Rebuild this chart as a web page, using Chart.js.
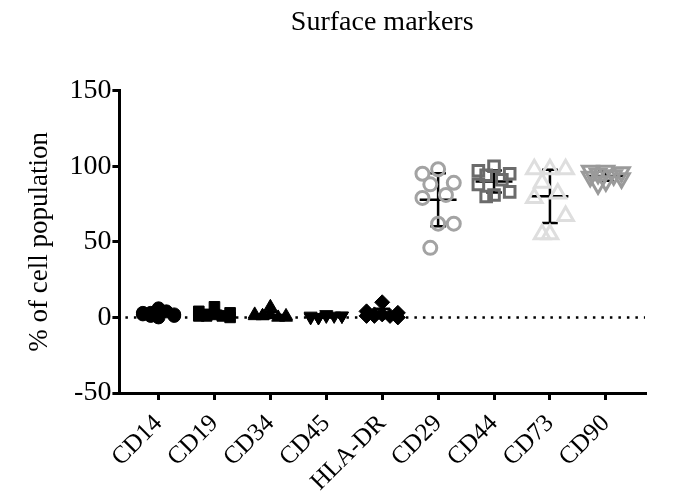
<!DOCTYPE html>
<html>
<head>
<meta charset="utf-8">
<script src="https://cdn.jsdelivr.net/npm/chart.js@4.4.0/dist/chart.umd.min.js"></script>
<style>
  body { margin: 0; background: #fff; }
  #wrap { width: 676px; height: 497px; }
</style>
</head>
<body>
<div id="wrap"><canvas id="myChart"></canvas></div>
<script>
let categories = ['CD14', 'CD19', 'CD34', 'CD45', 'HLA-DR', 'CD29', 'CD44', 'CD73', 'CD90']

// % of cell population, one array per marker
let cd14 = [6, 3, 2, 1, 4, 2, 1, 0, 3]
let cd19 = [7, 4, 3, 2, 1, 1, 0, 2, 1]
let cd34 = [7, 2, 1, 1, 0, 1, 0, 2, 1]
let cd45 = [2, 1, 1, 0, 1, 0, 1, 1, 0]
let hladr = [10, 4, 3, 2, 1, 1, 0, 2, 1]
let cd29 = [98, 95, 89, 88, 81, 79, 62, 62, 46]
let cd44 = [100, 97, 95, 94, 91, 88, 83, 81, 80]
let cd73 = [98, 98, 98, 89, 82, 79, 67, 55, 55]
let cd90 = [97, 97, 96, 95, 94, 93, 92, 90, 88]

let groups = [cd14, cd19, cd34, cd45, hladr, cd29, cd44, cd73, cd90]
let styles = [
    {shape: 'circle', color: '#000', fill: '#000', r: 6.5},
    {shape: 'rect', color: '#000', fill: '#000', r: 7.5},
    {shape: 'triangle', color: '#000', fill: '#000', r: 7.5},
    {shape: 'triangle', color: '#000', fill: '#000', rot: 180, r: 7.5},
    {shape: 'rectRot', color: '#000', fill: '#000', r: 7.5},
    {shape: 'circle', color: '#a3a3a3', fill: 'rgba(0,0,0,0)', r: 6.5},
    {shape: 'rect', color: '#6b6b6b', fill: 'rgba(0,0,0,0)', r: 7.5},
    {shape: 'triangle', color: '#dedede', fill: 'rgba(0,0,0,0)', r: 9},
    {shape: 'triangle', color: '#9a9a9a', fill: 'rgba(0,0,0,0)', rot: 180, r: 9},
]
// horizontal scatter pattern inside a column
let spread = [0, -0.2, 0.2, -0.1, 0.1, -0.2, 0.2, 0, -0.1]

const mean = (a) => a.reduce((s, v) => s + v, 0) / a.length
const sd = (a) => {
    let m = mean(a)
    return Math.sqrt(a.reduce((s, v) => s + (v - m) * (v - m), 0) / (a.length - 1))
}

let datasets = groups.map((vals, i) => {
    let st = styles[i]
    let low = i < 5
    return {
        label: categories[i],
        data: vals.map((v, k) => ({x: i + spread[k] * 1.4, y: v})),
        pointStyle: st.shape,
        pointRotation: st.rot || 0,
        radius: st.r,
        borderColor: st.color,
        backgroundColor: st.fill,
        borderWidth: low ? 1 : 3,
        showLine: false,
    }
})

const summaryPlugin = {
    id: 'summary',
    beforeDatasetsDraw(chart) {
        const {ctx, chartArea, scales: {x, y}} = chart
        ctx.save()
        // dotted line at 0
        ctx.strokeStyle = '#000'
        ctx.lineWidth = 2.5
        ctx.setLineDash([2.5, 6])
        ctx.beginPath()
        ctx.moveTo(chartArea.left + 6, y.getPixelForValue(0))
        ctx.lineTo(chartArea.right, y.getPixelForValue(0))
        ctx.stroke()
        ctx.setLineDash([])
        // mean +/- SD
        groups.forEach((vals, i) => {
            let m = mean(vals), s = sd(vals)
            let cx = x.getPixelForValue(i)
            let half = x.getPixelForValue(i + 0.33) - cx
            let cap = x.getPixelForValue(i + 0.14) - cx
            let ym = y.getPixelForValue(m)
            let yt = y.getPixelForValue(m + s)
            let yb = y.getPixelForValue(m - s)
            ctx.lineWidth = 2.5
            ctx.beginPath()
            ctx.moveTo(cx - half, ym); ctx.lineTo(cx + half, ym)
            ctx.moveTo(cx, yt); ctx.lineTo(cx, yb)
            ctx.moveTo(cx - cap, yt); ctx.lineTo(cx + cap, yt)
            ctx.moveTo(cx - cap, yb); ctx.lineTo(cx + cap, yb)
            ctx.stroke()
        })
        ctx.restore()
    }
}

const serif = 'Liberation Serif'
const ctx = document.getElementById('myChart').getContext('2d');
const myChart = new Chart(ctx, {
    type: 'scatter',
    data: { datasets: datasets },
    plugins: [summaryPlugin],
    options: {
        responsive: true,
        maintainAspectRatio: false,
        animation: false,
        layout: { padding: { left: 20, right: 31, top: 0, bottom: -9 } },
        plugins: {
            legend: { display: false },
            tooltip: { enabled: false },
            title: {
                display: true,
                fullSize: false,
                text: 'Surface markers',
                color: '#000',
                font: { family: serif, size: 28, weight: 'normal' },
                padding: { top: 6, bottom: 51 },
            },
        },
        scales: {
            x: {
                type: 'linear',
                min: -0.7,
                max: 8.7,
                afterBuildTicks: (axis) => { axis.ticks = categories.map((c, i) => ({value: i})) },
                ticks: {
                    callback: (v) => categories[v],
                    color: '#000',
                    font: { family: serif, size: 25 },
                    minRotation: 45,
                    maxRotation: 45,
                    padding: 9,
                },
                grid: { drawOnChartArea: false, drawTicks: true, tickLength: 7, color: '#000', lineWidth: 3 },
                border: { color: '#000', width: 3 },
            },
            y: {
                min: -50,
                max: 150,
                ticks: {
                    stepSize: 50,
                    color: '#000',
                    font: { family: serif, size: 28 },
                    padding: 1,
                },
                grid: { drawOnChartArea: false, drawTicks: true, tickLength: 7, color: '#000', lineWidth: 3 },
                border: { color: '#000', width: 3 },
                title: {
                    display: true,
                    text: '% of cell population',
                    color: '#000',
                    font: { family: serif, size: 27 },
                    padding: { bottom: 12 },
                },
            },
        },
    }
});
</script>
</body>
</html>
